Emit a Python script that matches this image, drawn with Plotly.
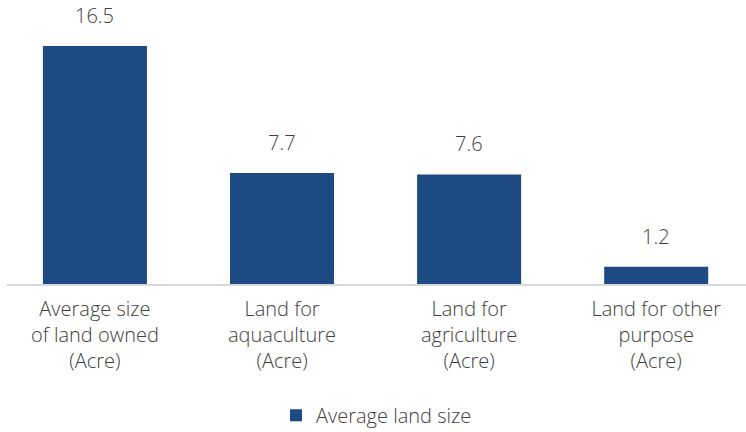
import plotly.graph_objects as go

categories = [
    "Average size<br>of land owned<br>(Acre)",
    "Land for<br>aquaculture<br>(Acre)",
    "Land for<br>agriculture<br>(Acre)",
    "Land for other<br>purpose<br>(Acre)",
]
values = [16.5, 7.7, 7.6, 1.2]
series_name = "Average land size"

BAR_COLOR = "#1E4A84"
TEXT_COLOR = "#404040"
FONT = "Open Sans"
WEIGHT = 300

fig = go.Figure()
fig.add_trace(go.Bar(
    x=categories,
    y=values,
    name=series_name,
    marker=dict(color=BAR_COLOR, line=dict(width=0)),
    width=0.556,
    showlegend=True,
))

# value labels above each bar
for cat, val in zip(categories, values):
    fig.add_annotation(
        x=cat, y=val, text=f"{val:.1f}",
        showarrow=False, yanchor="bottom", yshift=15,
        font=dict(family=FONT, size=20, color=TEXT_COLOR, weight=WEIGHT),
    )

fig.update_layout(
    width=746, height=432,
    margin=dict(l=7, r=0, t=10, b=147.5, autoexpand=False),
    paper_bgcolor="white", plot_bgcolor="white",
    font=dict(family=FONT, size=20, color=TEXT_COLOR, weight=WEIGHT),
    showlegend=True,
    legend=dict(
        orientation="h", x=0.5, xanchor="center",
        y=-0.479, yanchor="middle",
        font=dict(family=FONT, size=20, color=TEXT_COLOR, weight=WEIGHT),
    ),
    xaxis=dict(
        type="category",
        range=[-0.47, 3.48],
        automargin=False,
        showline=True, linecolor="#D9D9D9", linewidth=1.5,
        showgrid=False, ticks="", zeroline=False,
        ticklabelstandoff=6,
        tickfont=dict(family=FONT, size=20, color=TEXT_COLOR, weight=WEIGHT),
    ),
    yaxis=dict(
        range=[0, 19],
        visible=False, showgrid=False, zeroline=False,
    ),
)

fig.write_html("out.html")
